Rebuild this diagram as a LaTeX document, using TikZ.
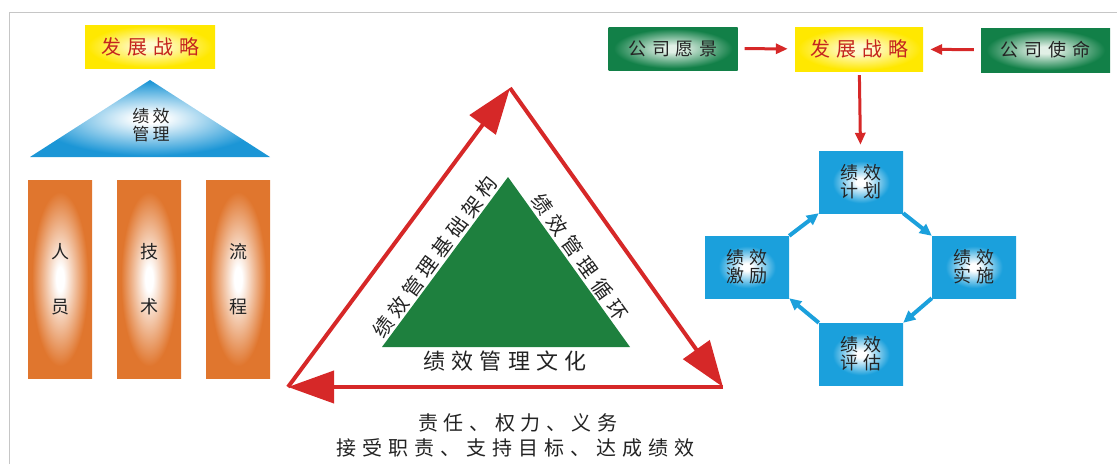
\documentclass[tikz,border=0pt]{standalone}
\usepackage{fontspec}
\newfontfamily\cjk{Noto Sans CJK SC}
\usetikzlibrary{arrows.meta}
\definecolor{tred}{RGB}{214,40,40}
\definecolor{txtred}{RGB}{196,36,30}
\definecolor{tgreen}{RGB}{30,128,62}
\definecolor{bgreen}{RGB}{18,128,72}
\definecolor{gcenter}{RGB}{225,240,230}
\definecolor{tblue}{RGB}{28,150,214}
\definecolor{bblue}{RGB}{27,160,220}
\definecolor{torange}{RGB}{224,118,46}
\definecolor{tyellow}{RGB}{255,232,0}
\definecolor{ycenter}{RGB}{255,250,205}
\definecolor{tdark}{RGB}{35,35,35}
\pgfdeclareradialshading{glowO}{\pgfpoint{0bp}{0bp}}{color(0bp)=(white); color(3bp)=(white); color(22bp)=(torange); color(50bp)=(torange)}
\pgfdeclareradialshading{glowG}{\pgfpoint{0bp}{0bp}}{color(0bp)=(gcenter); color(4bp)=(gcenter); color(23bp)=(bgreen); color(50bp)=(bgreen)}
\pgfdeclareradialshading{glowB}{\pgfpoint{0bp}{0bp}}{color(0bp)=(white); color(3bp)=(white); color(17bp)=(bblue); color(50bp)=(bblue)}
\pgfdeclareradialshading{glowY}{\pgfpoint{0bp}{0bp}}{color(0bp)=(ycenter); color(5bp)=(ycenter); color(24bp)=(tyellow); color(50bp)=(tyellow)}
\pgfdeclareradialshading{glowT}{\pgfpoint{0bp}{0bp}}{color(0bp)=(white); color(3bp)=(white); color(24bp)=(tblue); color(50bp)=(tblue)}
\newcommand\myfs[3]{\cjk\addfontfeature{LetterSpace=#3}\fontsize{#1}{#2}\selectfont}
\begin{document}
\begin{tikzpicture}[x=1pt,y=-1pt,
  ybox/.style={inner sep=0pt, shading=glowY, text=txtred, font=\myfs{20}{22}{30}},
  gbox/.style={inner sep=0pt, minimum width=129pt, minimum height=43pt, shading=glowG, text=tdark, font=\myfs{18}{20}{32}},
  bbox/.style={inner sep=0pt, minimum width=84pt, minimum height=62pt, shading=glowB, text=tdark, align=center, font=\myfs{18}{18}{28}},
  pillar/.style={inner sep=0pt, minimum width=64pt, minimum height=198pt, shading=glowO, text=tdark, align=center, font=\myfs{18}{55}{0}},
  bigarrow/.style={draw=tred, line width=4pt, -{Triangle[length=46pt,width=32pt]}},
  rarrow/.style={draw=tred, line width=3pt, -{Triangle[length=12pt,width=10pt]}},
  barrow/.style={draw=bblue, line width=4pt, -{Triangle[length=12pt,width=11pt]}},
  lbl/.style={text=tdark, inner sep=0pt}
]
\useasboundingbox (0,0) rectangle (1117,464);
\draw[gray!45, line width=0.7pt] (9,464) -- (9,12) -- (1117,12);

% ---------- left: house ----------
\node[ybox, minimum width=130pt, minimum height=43pt] (ls) at (150,46.5) {发展战略};
\shade[shading=glowT] (150,80) -- (270,157) -- (30,157) -- cycle;
\node[lbl, align=center, font=\myfs{17}{18}{20}] (pm) at (151,125) {绩效\\管理};
\node[pillar] (p1) at (60,279) {人\\员};
\node[pillar] (p2) at (149,279) {技\\术};
\node[pillar] (p3) at (238,279) {流\\程};

% ---------- middle: triangles ----------
\coordinate (TA) at (510,88);
\coordinate (TL) at (288,387);
\coordinate (TR) at (723,387);
\fill[tgreen] (508,177) -- (630,347) -- (382,347) -- cycle;
\draw[bigarrow] (TL) -- (TA);
\draw[bigarrow] (TA) -- (TR);
\draw[bigarrow] (TR) -- (TL);
\node[lbl, rotate=53.5, font=\myfs{20}{22}{24}] (t1) at (435,257) {绩效管理基础架构};
\node[lbl, rotate=-54.5, font=\myfs{20}{22}{30}] (t2) at (580,257) {绩效管理循环};
\node[lbl, font=\myfs{22}{24}{28}] (t3) at (505,361) {绩效管理文化};
\node[lbl, font=\myfs{20}{22}{28}] (b1) at (518,423) {责任、权力、义务};
\node[lbl, font=\myfs{20}{22}{30}] (b2) at (515,448) {接受职责、支持目标、达成绩效};

% ---------- right: strategy and cycle ----------
\node[gbox] (v) at (673,48.5) {公司愿景};
\node[ybox, minimum width=128pt, minimum height=44pt] (s) at (859,49) {发展战略};
\node[gbox, minimum height=44pt] (m) at (1045.5,50) {公司使命};
\draw[rarrow, shorten <=7pt, shorten >=7pt] (v) -- (s);
\draw[rarrow, shorten <=7pt, shorten >=7pt] (m) -- (s);

\node[bbox] (plan) at (861,182) {绩效\\计划};
\node[bbox] (impl) at (974,267) {绩效\\实施};
\node[bbox] (eval) at (861,354) {绩效\\评估};
\node[bbox] (inc) at (747,267) {绩效\\激励};
\draw[rarrow, shorten <=4pt, shorten >=6pt] (s) -- (plan);

\draw[barrow] (plan.south east) -- (impl.north west);
\draw[barrow] (impl.south west) -- (eval.north east);
\draw[barrow] (eval.north west) -- (inc.south east);
\draw[barrow] (inc.north east) -- (plan.south west);
\end{tikzpicture}
\end{document}
